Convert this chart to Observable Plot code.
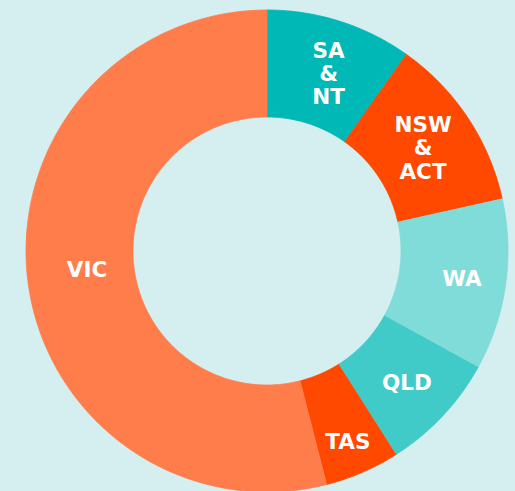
<!DOCTYPE html>
<html><head><meta charset="utf-8">
<script src="https://cdn.jsdelivr.net/npm/d3@7"></script>
<script src="https://cdn.jsdelivr.net/npm/@observablehq/plot@0.6"></script>
<style>html,body{margin:0;padding:0;background:#d5eff0;overflow:hidden}</style>
</head><body><div id="chart"></div>
<script>
// ---- data ----
const regions = ["SA & NT", "NSW & ACT", "WA", "QLD", "TAS", "VIC"];
const labels  = ["SA\n&\nNT", "NSW\n&\nACT", "WA", "QLD", "TAS", "VIC"];
const shares  = [9.8, 11.7, 11.5, 8.0, 5.0, 54.0];
const colors  = ["#00b8b5", "#ff4800", "#7fdcd9", "#40cbc8", "#ff4800", "#ff7c4b"];

// ---- layout (not data) ----
const W = 515, H = 491, CX = 266.5, CY = 250.5, R_OUT = 241, R_IN = 134;
const labelR = {"SA & NT": 188, "NSW & ACT": 187, "WA": 197, "QLD": 192, "TAS": 207, "VIC": 181};
const labelShiftDeg = {"SA & NT": 1.5, "NSW & ACT": 0.2, "WA": 0, "QLD": 0, "TAS": 0.4, "VIC": 1.2};

const arcs = d3.pie().sort(null).value(d => d.share)(
  regions.map((name, i) => ({name, label: labels[i], share: shares[i]}))
);

const points = [];
for (const a of arcs) {
  const n = Math.max(2, Math.ceil((a.endAngle - a.startAngle) / (Math.PI / 360)));
  for (let k = 0; k <= n; k++) {
    const t = a.startAngle + (a.endAngle - a.startAngle) * k / n;
    points.push({name: a.data.name, x: R_OUT * Math.sin(t), y: -R_OUT * Math.cos(t)});
  }
  for (let k = n; k >= 0; k--) {
    const t = a.startAngle + (a.endAngle - a.startAngle) * k / n;
    points.push({name: a.data.name, x: R_IN * Math.sin(t), y: -R_IN * Math.cos(t)});
  }
}

const labelData = arcs.map(a => {
  const t = (a.startAngle + a.endAngle) / 2 + labelShiftDeg[a.data.name] * Math.PI / 180;
  const r = labelR[a.data.name];
  return {label: a.data.label, x: r * Math.sin(t), y: -r * Math.cos(t)};
});

const chart = Plot.plot({
  width: W, height: H, margin: 0,
  x: {domain: [-CX, W - CX], range: [0, W], axis: null},
  y: {domain: [-CY, H - CY], range: [0, H], axis: null},
  color: {domain: regions, range: colors},
  style: {background: "transparent", overflow: "hidden"},
  marks: [
    Plot.line(points, {x: "x", y: "y", z: "name", fill: "name", stroke: "name", strokeWidth: 0.8, curve: "linear"}),
    Plot.text(labelData, {
      x: "x", y: "y", text: "label", fill: "white",
      fontSize: 21.5, fontWeight: "bold", fontFamily: "DejaVu Sans", lineHeight: 1.08
    })
  ]
});
document.getElementById("chart").appendChild(chart);
</script>
</body></html>
